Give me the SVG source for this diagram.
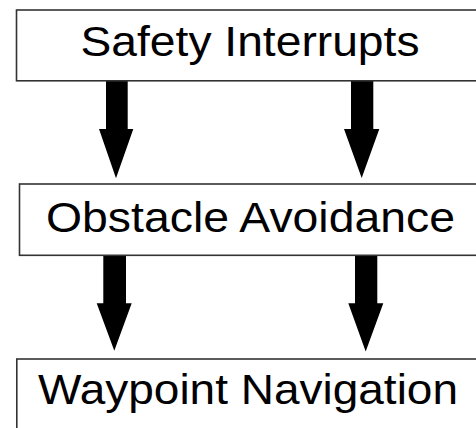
<svg xmlns="http://www.w3.org/2000/svg" width="476" height="428" viewBox="0 0 476 428">
<style>
.box{fill:#fff;stroke:#333;stroke-width:1.6}
.lbl{font-family:"Liberation Sans",Arial,sans-serif;font-size:42px;fill:#000}
.arr{fill:#000;stroke:none}
</style>
<rect width="476" height="428" fill="#fff"/>
<g id="connectors">
<polygon class="arr" points="106,81 127.7,81 127.7,129 133.3,129 116,178.3 99,129 106,129"/>
<polygon class="arr" points="351,81 373.3,81 373.3,129 379.3,129 361.7,178 344,129 351,129"/>
<polygon class="arr" points="103.3,255 126,255 126,303.3 131.7,303.3 114.3,350.7 96.7,303.3 103.3,303.3"/>
<polygon class="arr" points="355,255 377.3,255 377.3,303.3 383.3,303.3 365.7,351.5 348.3,303.3 355,303.3"/>
</g>
<g id="safety">
<rect class="box" x="16.5" y="10" width="470" height="70.8"/>
<text class="lbl" x="80.5" y="56" textLength="339" lengthAdjust="spacingAndGlyphs">Safety Interrupts</text>
</g>
<g id="obstacle">
<rect class="box" x="19.5" y="184" width="470" height="71.3"/>
<text class="lbl" x="46" y="231.5" textLength="409" lengthAdjust="spacingAndGlyphs">Obstacle Avoidance</text>
</g>
<g id="waypoint">
<rect class="box" x="16.8" y="359" width="470" height="80"/>
<text class="lbl" x="38" y="404" textLength="420" lengthAdjust="spacingAndGlyphs">Waypoint Navigation</text>
</g>
</svg>
